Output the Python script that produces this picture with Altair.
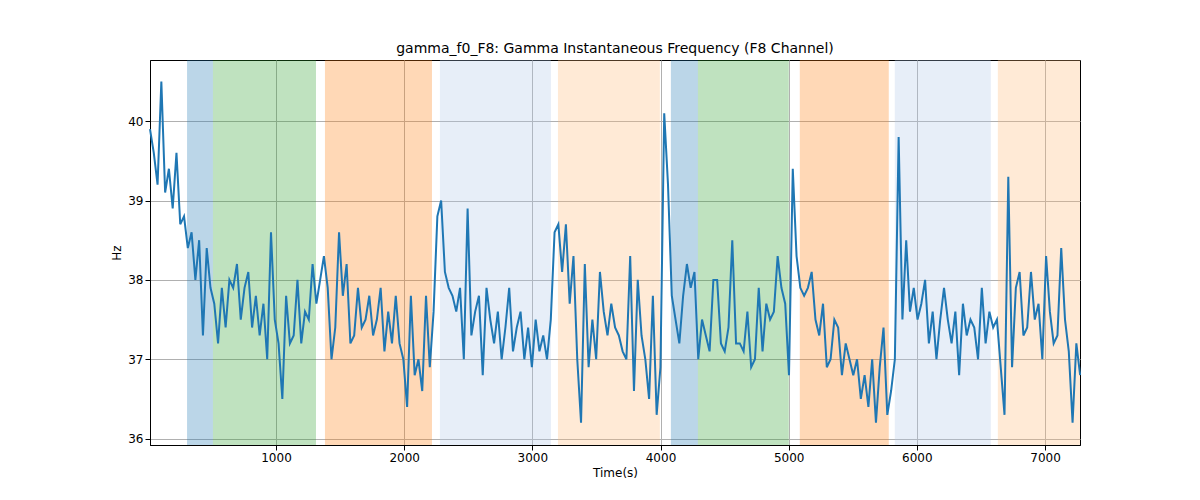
import altair as alt
import pandas as pd

# line values, one every 29.5 s starting at 17 s
hz = [
    39.9, 39.6, 39.2, 40.5, 39.1, 39.4, 38.9, 39.6, 38.7, 38.8, 38.4, 38.6, 38.0, 38.5, 37.3, 38.4, 37.9,
    37.7, 37.2, 37.9, 37.4, 38.0, 37.9, 38.2, 37.5, 37.9, 38.1, 37.4, 37.8, 37.3, 37.7, 37.0, 38.6, 37.5,
    37.2, 36.5, 37.8, 37.2, 37.3, 38.0, 37.2, 37.6, 37.5, 38.2, 37.7, 38.0, 38.3, 37.9, 37.0, 37.4, 38.6,
    37.8, 38.2, 37.2, 37.3, 37.9, 37.4, 37.5, 37.8, 37.3, 37.5, 37.9, 37.1, 37.6, 37.2, 37.8, 37.2, 37.0,
    36.4, 37.8, 36.8, 37.0, 36.6, 37.8, 36.9, 37.6, 38.8, 39.0, 38.1, 37.9, 37.8, 37.6, 37.9, 37.0, 38.9,
    37.3, 37.6, 37.8, 36.8, 37.9, 37.5, 37.2, 37.6, 37.0, 37.4, 37.9, 37.1, 37.4, 37.6, 37.0, 37.4, 36.9,
    37.5, 37.1, 37.3, 37.0, 37.5, 38.6, 38.7, 38.1, 38.7, 37.7, 38.3, 37.0, 36.2, 38.2, 36.9, 37.5, 37.0,
    38.1, 37.6, 37.3, 37.7, 37.4, 37.3, 37.1, 37.0, 38.3, 36.6, 38.0, 37.3, 37.0, 36.5, 37.8, 36.3, 36.9,
    40.1, 39.2, 37.8, 37.5, 37.2, 37.8, 38.2, 37.9, 38.1, 37.0, 37.5, 37.3, 37.1, 38.0, 38.0, 37.2, 37.1,
    37.4, 38.5, 37.2, 37.2, 37.1, 37.6, 36.9, 37.0, 37.9, 37.1, 37.7, 37.5, 37.6, 38.3, 37.9, 37.7, 36.8,
    39.4, 38.3, 37.9, 37.8, 37.9, 38.1, 37.5, 37.3, 37.7, 36.9, 37.0, 37.5, 37.4, 36.8, 37.2, 37.0, 36.8,
    37.0, 36.5, 36.8, 36.4, 37.0, 36.2, 36.9, 37.4, 36.3, 36.6, 37.0, 39.8, 37.5, 38.5, 37.6, 37.9, 37.5,
    37.7, 38.0, 37.2, 37.6, 37.0, 37.5, 37.9, 37.5, 37.2, 37.6, 36.8, 37.7, 37.3, 37.5, 37.4, 37.0, 37.9,
    37.2, 37.6, 37.4, 37.5, 36.9, 36.3, 39.3, 36.9, 37.9, 38.1, 37.3, 37.4, 38.1, 37.5, 37.7, 37.0, 38.3,
    37.6, 37.2, 37.3, 38.4, 37.5, 37.1, 36.2, 37.2, 36.8,
]
t_start = 17
t_step = 29.5

band_start = [306, 508, 1382, 2279, 3200, 4081, 4292, 5087, 5828, 6632]
band_end = [508, 1312, 2217, 3145, 3995, 4292, 5001, 5781, 6577, 7273]
band_kind = ["b", "g", "o", "lb", "lo", "b", "g", "o", "lb", "lo"]

line_df = pd.DataFrame({"t": [t_start + i * t_step for i in range(len(hz))], "hz": hz})
band_df = pd.DataFrame({"s": band_start, "e": band_end, "k": band_kind})

xs = alt.Scale(domain=[17, 7273], nice=False, zero=False)
ys = alt.Scale(domain=[35.92, 40.77], nice=False, zero=False)

bands = alt.Chart(band_df).mark_rect(opacity=0.3).encode(
    x=alt.X("s:Q", scale=xs),
    x2="e:Q",
    color=alt.Color("k:N", legend=None,
                    scale=alt.Scale(domain=["b", "g", "o", "lb", "lo"],
                                    range=["#1f77b4", "#2ca02c", "#ff7f0e", "#aec7e8", "#ffbb78"])),
)

line = alt.Chart(line_df).mark_line(color="#1f77b4", strokeWidth=2).encode(
    x=alt.X("t:Q", scale=xs, title="Time(s)",
            axis=alt.Axis(values=[1000, 2000, 3000, 4000, 5000, 6000, 7000], format="d")),
    y=alt.Y("hz:Q", scale=ys, title="Hz", axis=alt.Axis(values=[36, 37, 38, 39, 40])),
)

chart = (bands + line).properties(
    width=930, height=385,
    title=alt.TitleParams("gamma_f0_F8: Gamma Instantaneous Frequency (F8 Channel)",
                          fontSize=14, fontWeight="normal", font="DejaVu Sans", color="black"),
    autosize=alt.AutoSizeParams(type="none"),
    padding={"left": 142, "top": 52, "right": 100, "bottom": 47},
).configure_axis(
    grid=True, gridColor="#b0b0b0", gridOpacity=1, domainColor="black", tickColor="black",
    labelFont="DejaVu Sans", titleFont="DejaVu Sans", labelFontSize=12, titleFontSize=12,
    titleFontWeight="normal", labelColor="black", titleColor="black",
).configure_view(stroke="black")

chart.save("out.html", embed_options={"renderer": "svg", "actions": False})
